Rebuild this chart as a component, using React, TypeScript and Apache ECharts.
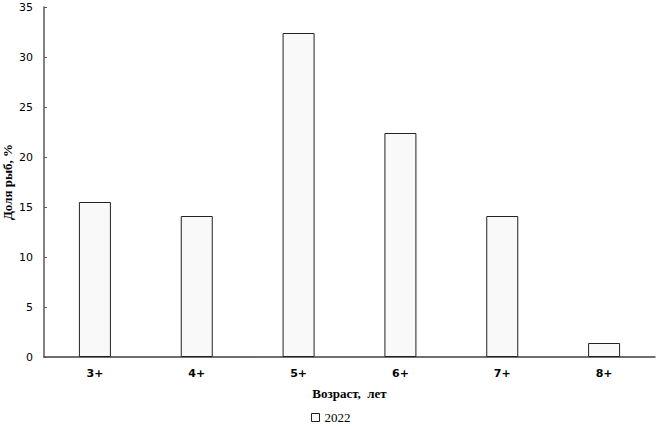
import React, { useEffect, useRef } from "react";
import * as echarts from "echarts";

const categories = ["3+", "4+", "5+", "6+", "7+", "8+"];
const values2022 = [15.5, 14.1, 32.4, 22.4, 14.1, 1.4];
const seriesName = "2022";

export default function App() {
  const ref = useRef<HTMLDivElement>(null);
  useEffect(() => {
    if (!ref.current) return;
    const chart = echarts.init(ref.current, null, { renderer: "svg" });
    chart.setOption({
      animation: false,
      backgroundColor: "#ffffff",
      grid: { left: 44, top: 7, right: 1, bottom: 72, outerBoundsMode: "none", containLabel: false },
      legend: {
        data: [{ name: seriesName, icon: "rect" }],
        bottom: 0,
        left: 306,
        itemWidth: 8,
        itemHeight: 8,
        itemGap: 4,
        itemStyle: { color: "#f9f9f9", borderColor: "#222", borderWidth: 1 },
        textStyle: { fontFamily: "Liberation Serif", fontSize: 13, color: "#000" },
      },
      xAxis: {
        type: "category",
        data: categories,
        name: "Возраст,  лет",
        nameLocation: "middle",
        nameGap: 30,
        nameMoveOverlap: false,
        nameTextStyle: { fontFamily: "Liberation Serif", fontWeight: "bold", fontSize: 13, color: "#000" },
        axisLine: { lineStyle: { color: "#404040", width: 1.5 } },
        axisTick: { show: false },
        axisLabel: { fontFamily: "DejaVu Sans", fontWeight: "bold", fontSize: 11, color: "#000", margin: 11 },
      },
      yAxis: {
        type: "value",
        min: 0,
        max: 35,
        interval: 5,
        name: "Доля рыб, %",
        nameLocation: "middle",
        nameGap: 30,
        nameMoveOverlap: false,
        nameTextStyle: { fontFamily: "Liberation Serif", fontWeight: "bold", fontSize: 13, color: "#000" },
        axisLine: { show: true, lineStyle: { color: "#595959", width: 1.5 } },
        axisTick: { show: true, inside: true, length: 3, lineStyle: { color: "#595959" } },
        splitLine: { show: false },
        axisLabel: { fontFamily: "DejaVu Sans", fontSize: 11, color: "#000", margin: 11 },
      },
      series: [
        {
          name: seriesName,
          type: "bar",
          data: values2022,
          barWidth: 32,
          itemStyle: { color: "#f9f9f9", borderColor: "#222", borderWidth: 1 },
        },
      ],
    });
    return () => chart.dispose();
  }, []);
  return <div ref={ref} style={{ width: 656, height: 429, position: "absolute", left: 0, top: 0 }} />;
}
